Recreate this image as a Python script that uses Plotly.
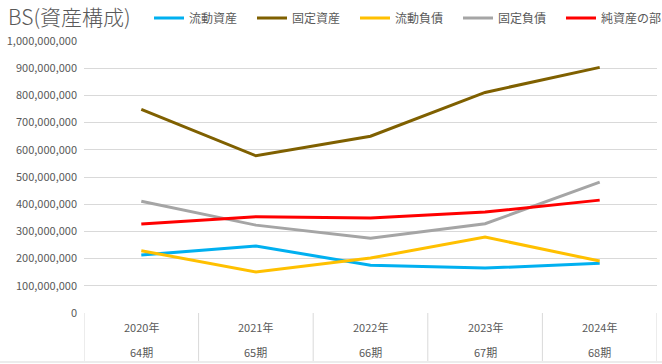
import plotly.graph_objects as go

years = ["2020年", "2021年", "2022年", "2023年", "2024年"]
periods = ["64期", "65期", "66期", "67期", "68期"]
series_names = ["流動資産", "固定資産", "流動負債", "固定負債", "純資産の部"]
current_assets = [213000000, 246000000, 176000000, 165000000, 183000000]
fixed_assets = [749000000, 578000000, 650000000, 811000000, 903000000]
current_liab = [229000000, 151000000, 202000000, 279000000, 191000000]
fixed_liab = [411000000, 323000000, 275000000, 328000000, 481000000]
net_assets = [327000000, 354000000, 349000000, 371000000, 415000000]
colors = ["#00B0F0", "#7F6000", "#FFC000", "#A5A5A5", "#FF0000"]
y_ticks = list(range(0, 1000000001, 100000000))

FONT = "Noto Sans CJK JP"
GRAY = "#595959"
GRID = "#D9D9D9"

W, H = 662, 364
ML, MR, MT, MB = 84, 5, 41, 51
PH = H - MT - MB

fig = go.Figure()
xs = list(range(len(years)))
for name, vals, c in zip(series_names,
                         [current_assets, fixed_assets, current_liab, fixed_liab, net_assets],
                         colors):
    fig.add_trace(go.Scatter(x=xs, y=vals, mode="lines", name=name,
                             line=dict(color=c, width=3)))

shapes = []
for i in range(len(years) + 1):
    shapes.append(dict(type="line", xref="x", yref="paper",
                       x0=i - 0.5, x1=i - 0.5, y0=0, y1=-(361 - 313) / PH,
                       line=dict(color=GRID, width=1)))
shapes.append(dict(type="line", xref="paper", yref="paper",
                   x0=-ML / (W - ML - MR), x1=1 + MR / (W - ML - MR),
                   y0=-(362 - 313) / PH, y1=-(362 - 313) / PH,
                   line=dict(color=GRID, width=1)))

ann = []
for i, (yr, pr) in enumerate(zip(years, periods)):
    ann.append(dict(x=i, y=0, xref="x", yref="paper", text=yr, showarrow=False,
                    yshift=-14, yanchor="middle", font=dict(family=FONT, size=11, color=GRAY)))
    ann.append(dict(x=i, y=0, xref="x", yref="paper", text=pr, showarrow=False,
                    yshift=-39, yanchor="middle", font=dict(family=FONT, size=11, color=GRAY)))

fig.update_layout(
    width=W, height=H,
    margin=dict(l=ML, r=MR, t=MT, b=MB, autoexpand=False),
    paper_bgcolor="white", plot_bgcolor="white",
    font=dict(family=FONT, color=GRAY, size=11),
    title=dict(text="BS(資産構成)", x=8 / W, xanchor="left", xref="container",
               y=1 - 18 / H, yanchor="middle", yref="container",
               pad=dict(l=0, r=0, t=0, b=0),
               font=dict(family=FONT, size=21, color=GRAY, weight=300)),
    legend=dict(orientation="h", xref="container", yref="container",
                x=149 / W, xanchor="left", y=1 - 18 / H, yanchor="middle",
                entrywidth=58, entrywidthmode="pixels",
                font=dict(family=FONT, size=12, color=GRAY),
                bgcolor="rgba(0,0,0,0)"),
    xaxis=dict(range=[-0.5, 4.5], showgrid=False, zeroline=False,
               showticklabels=False, showline=False, fixedrange=True),
    yaxis=dict(range=[0, 1000000000], tickvals=y_ticks, tickformat=",d",
               showgrid=True, gridcolor=GRID, gridwidth=1, zeroline=False,
               showline=False, ticks="", ticklabelstandoff=6,
               tickfont=dict(family=FONT, size=11, color=GRAY)),
    shapes=shapes, annotations=ann, showlegend=True,
)
fig.write_html("out.html", config={"displayModeBar": False},
               post_script="document.body.style.margin='0';")
